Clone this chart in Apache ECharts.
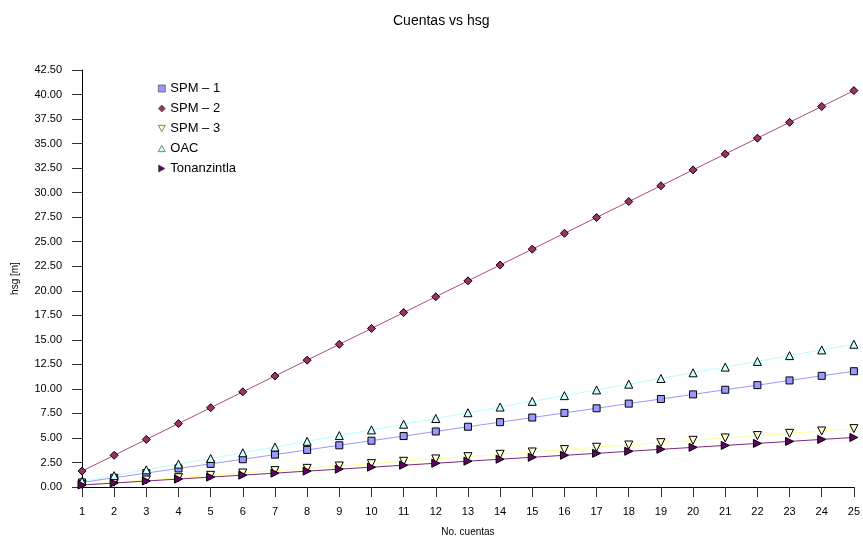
<!DOCTYPE html>
<html>
<head>
<meta charset="utf-8">
<script src="https://cdn.jsdelivr.net/npm/echarts@6/dist/echarts.min.js"></script>
<style>html,body{margin:0;padding:0;background:#fff}#c{width:863px;height:542px}</style>
</head>
<body>
<div id="c"></div>
<script>
const categories = ['1','2','3','4','5','6','7','8','9','10','11','12','13','14','15','16','17','18','19','20','21','22','23','24','25'];
const spm1 = [0.47,0.94,1.42,1.89,2.36,2.83,3.30,3.78,4.25,4.72,5.19,5.66,6.14,6.61,7.08,7.55,8.02,8.50,8.97,9.44,9.91,10.38,10.86,11.33,11.80];
const spm2 = [1.62,3.23,4.85,6.46,8.08,9.70,11.31,12.93,14.54,16.16,17.78,19.39,21.01,22.62,24.24,25.86,27.47,29.09,30.70,32.32,33.94,35.55,37.17,38.78,40.40];
const spm3 = [0.24,0.48,0.71,0.95,1.19,1.43,1.67,1.90,2.14,2.38,2.62,2.86,3.09,3.33,3.57,3.81,4.05,4.28,4.52,4.76,5.00,5.24,5.47,5.71,5.95];
const oac = [0.58,1.16,1.75,2.33,2.91,3.49,4.07,4.66,5.24,5.82,6.40,6.98,7.57,8.15,8.73,9.31,9.89,10.48,11.06,11.64,12.22,12.80,13.39,13.97,14.55];
const tonan = [0.20,0.40,0.61,0.81,1.01,1.21,1.41,1.62,1.82,2.02,2.22,2.42,2.63,2.83,3.03,3.23,3.43,3.64,3.84,4.04,4.24,4.44,4.65,4.85,5.05];
const seriesNames = ['SPM \u2013 1','SPM \u2013 2','SPM \u2013 3','OAC','Tonanzintla'];

const downTri = 'path://M0,0L10,0L5,9Z';
const upTri = 'path://M5,0L10,9L0,9Z';
const rightTri = 'path://M0,0L9,5L0,10Z';
const defs = [
  {data: spm1, color:'#9999ff', line:'#9999ff', symbol:'rect', size:7},
  {data: spm2, color:'#993366', line:'#b04a78', symbol:'diamond', size:8},
  {data: spm3, color:'#ffffcc', line:'#ffff99', symbol:downTri, size:8},
  {data: oac, color:'#ccffff', line:'#b8ffff', symbol:upTri, size:8},
  {data: tonan, color:'#660066', line:'#7a2a7a', symbol:rightTri, size:8}
];
const font = 'Liberation Sans, Arial, sans-serif';
const chart = echarts.init(document.getElementById('c'), null, {renderer:'canvas'});
chart.setOption({
  animation:false,
  backgroundColor:'#fff',
  textStyle:{fontFamily:font},
  title:{text:'Cuentas vs hsg', left:388, top:9, textStyle:{fontSize:14, fontWeight:'normal', color:'#000', fontFamily:font}},
  legend:{
    orient:'vertical', left:153, top:77, itemWidth:7, itemHeight:7, itemGap:7,
    textStyle:{fontSize:13, color:'#000', fontFamily:font},
    itemStyle:{borderWidth:0.6, borderColor:'#333'},
    data: seriesNames.map((n,i)=>({name:n, icon: defs[i].symbol}))
  },
  grid:{left:82, right:6, top:70, bottom:51, containLabel:false},
  xAxis:{
    type:'category', data:categories, boundaryGap:false,
    name:'No. cuentas', nameLocation:'middle', nameGap:40,
    nameTextStyle:{fontSize:10, color:'#000', fontFamily:font},
    axisLine:{lineStyle:{color:'#000', width:1}},
    axisTick:{show:true, length:10, alignWithLabel:true, lineStyle:{color:'#333'}},
    axisLabel:{fontSize:11, color:'#000', margin:19, interval:0, fontFamily:font},
    splitLine:{show:false}
  },
  yAxis:{
    type:'value', min:0, max:42.5, interval:2.5,
    name:'hsg [m]', nameLocation:'middle', nameGap:62,
    nameTextStyle:{fontSize:10, color:'#000', fontFamily:font},
    axisLine:{show:true, lineStyle:{color:'#000', width:1}},
    axisTick:{show:true, length:10, lineStyle:{color:'#333'}},
    axisLabel:{fontSize:11, color:'#000', margin:20, formatter:v=>v.toFixed(2), fontFamily:font},
    splitLine:{show:false}
  },
  series: defs.map((d,i)=>({
    name: seriesNames[i], type:'line', data:d.data,
    symbol:d.symbol, symbolSize:d.size, showSymbol:true,
    lineStyle:{color:d.line, width:1},
    itemStyle:{color:d.color, borderColor:'#000', borderWidth:1},
    emphasis:{disabled:true}
  }))
});
</script>
</body>
</html>
